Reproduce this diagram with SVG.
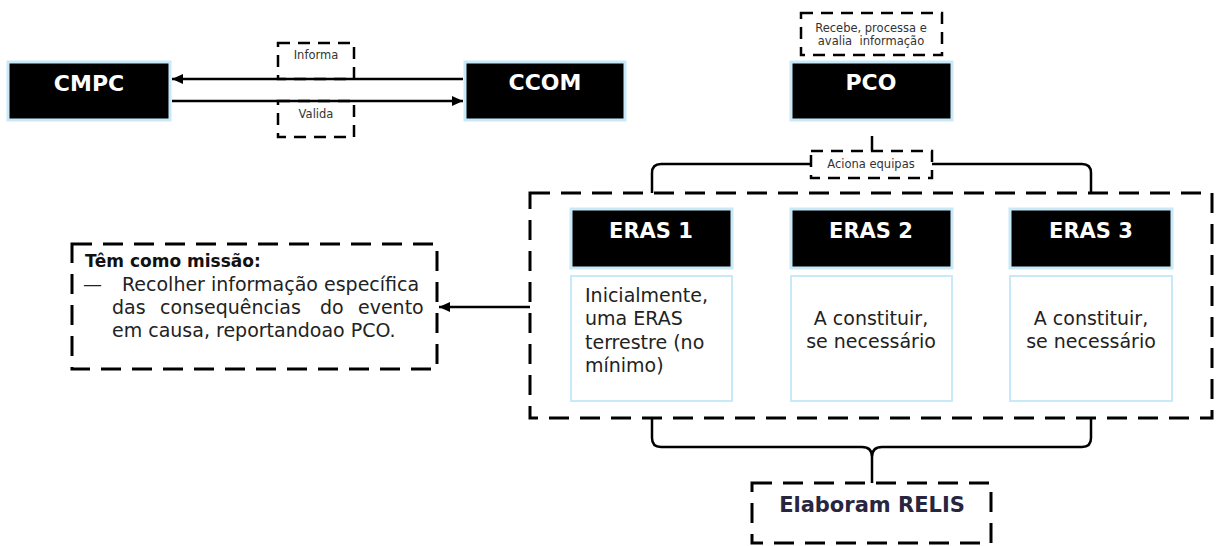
<svg xmlns="http://www.w3.org/2000/svg" width="1216" height="546" viewBox="0 0 1216 546">
<style>
.blk{fill:#000;stroke:#c8eaf8;stroke-width:3}
.wht{fill:#fff;stroke:#c8eaf8;stroke-width:2}
.dbig{fill:none;stroke:#000;stroke-width:3;stroke-dasharray:20 11}
.dbigw{fill:#fff;stroke:#000;stroke-width:3;stroke-dasharray:20 11}
.dsm{fill:#fff;stroke:#000;stroke-width:2.5;stroke-dasharray:12 8}
.title{font-family:"DejaVu Sans",sans-serif;font-weight:bold;fill:#fff;text-anchor:middle}
.body{font-family:"DejaVu Sans",sans-serif;font-size:19px;fill:#222}
.small{font-family:"DejaVu Sans",sans-serif;font-size:11.5px;fill:#333;text-anchor:middle}
.conn{fill:none;stroke:#000;stroke-width:2.5}
</style>
<defs>
<marker id="ah" markerUnits="userSpaceOnUse" markerWidth="12" markerHeight="10" refX="11" refY="5" orient="auto">
<path d="M0,0 L11,5 L0,10 Z" fill="#000"/>
</marker>
</defs>
<rect width="1216" height="546" fill="#fff"/>

<g id="label-informa">
<rect class="dsm" x="278" y="43" width="76" height="36"/>
<text class="small" x="316" y="59">Informa</text>
</g>
<g id="label-valida">
<rect class="dsm" x="278" y="101" width="76" height="36"/>
<text class="small" x="316" y="118">Valida</text>
</g>
<g id="container">
<rect class="dbig" x="530" y="193" width="682" height="225"/>
</g>

<g id="connectors">
<path class="conn" d="M463,79 L172,79" marker-end="url(#ah)"/>
<path class="conn" d="M172,101 L463,101" marker-end="url(#ah)"/>
<path class="conn" d="M652,193 L652,173 Q652,164 661,164 L862,164 Q872,164 872,154 L872,136 M1091,193 L1091,173 Q1091,164 1082,164 L882,164 Q872,164 872,154"/>
<path class="conn" d="M652,418 L652,438 Q652,447 661,447 L862,447 Q872,447 872,457 L872,483 M1091,418 L1091,438 Q1091,447 1082,447 L882,447 Q872,447 872,457"/>
<path class="conn" d="M530,307 L439,307" marker-end="url(#ah)"/>
</g>

<g id="cmpc">
<rect class="blk" x="8" y="62" width="162" height="58"/>
<text class="title" x="89" y="91" font-size="22">CMPC</text>
</g>
<g id="ccom">
<rect class="blk" x="465" y="62" width="160" height="58"/>
<text class="title" x="545" y="90" font-size="22">CCOM</text>
</g>
<g id="pco">
<rect class="blk" x="791" y="62" width="161" height="58"/>
<text class="title" x="871" y="90" font-size="22">PCO</text>
</g>
<g id="label-recebe">
<rect class="dsm" x="801" y="13" width="141" height="42"/>
<text class="small" x="871" y="32">Recebe, processa e</text>
<text class="small" x="871" y="45" xml:space="preserve">avalia  informação</text>
</g>
<g id="label-aciona">
<rect class="dsm" x="811" y="151" width="121" height="27"/>
<text class="small" x="871" y="168">Aciona equipas</text>
</g>

<g id="eras1">
<rect class="blk" x="571" y="209" width="161" height="59"/>
<text class="title" x="651" y="238" font-size="21">ERAS 1</text>
<rect class="wht" x="571" y="276" width="161" height="125"/>
<text class="body" x="585" y="302">Inicialmente,</text>
<text class="body" x="585" y="325">uma ERAS</text>
<text class="body" x="585" y="349">terrestre (no</text>
<text class="body" x="585" y="372">mínimo)</text>
</g>
<g id="eras2">
<rect class="blk" x="791" y="209" width="161" height="59"/>
<text class="title" x="871" y="238" font-size="21">ERAS 2</text>
<rect class="wht" x="791" y="276" width="161" height="125"/>
<text class="body" x="871" y="325" text-anchor="middle">A constituir,</text>
<text class="body" x="871" y="348" text-anchor="middle">se necessário</text>
</g>
<g id="eras3">
<rect class="blk" x="1010" y="209" width="162" height="59"/>
<text class="title" x="1091" y="238" font-size="21">ERAS 3</text>
<rect class="wht" x="1010" y="276" width="162" height="125"/>
<text class="body" x="1091" y="325" text-anchor="middle">A constituir,</text>
<text class="body" x="1091" y="348" text-anchor="middle">se necessário</text>
</g>

<g id="missao">
<rect class="dbigw" x="72" y="244" width="365" height="125"/>
<text x="85" y="267" font-family="DejaVu Sans, sans-serif" font-size="17" font-weight="bold" fill="#111">Têm como missão:</text>
<text class="body" x="83" y="291" fill="#555">—</text>
<text class="body" x="122" y="291">Recolher informação específica</text>
<text class="body" y="314"><tspan x="112">das</tspan><tspan x="160">consequências</tspan><tspan x="320">do</tspan><tspan x="358">evento</tspan></text>
<text class="body" x="112" y="337">em causa, reportandoao PCO.</text>
</g>

<g id="relis">
<rect class="dbigw" x="752" y="483" width="239" height="60"/>
<text x="872" y="512" font-family="DejaVu Sans, sans-serif" font-size="21" font-weight="bold" fill="#28253f" text-anchor="middle">Elaboram RELIS</text>
</g>
</svg>
